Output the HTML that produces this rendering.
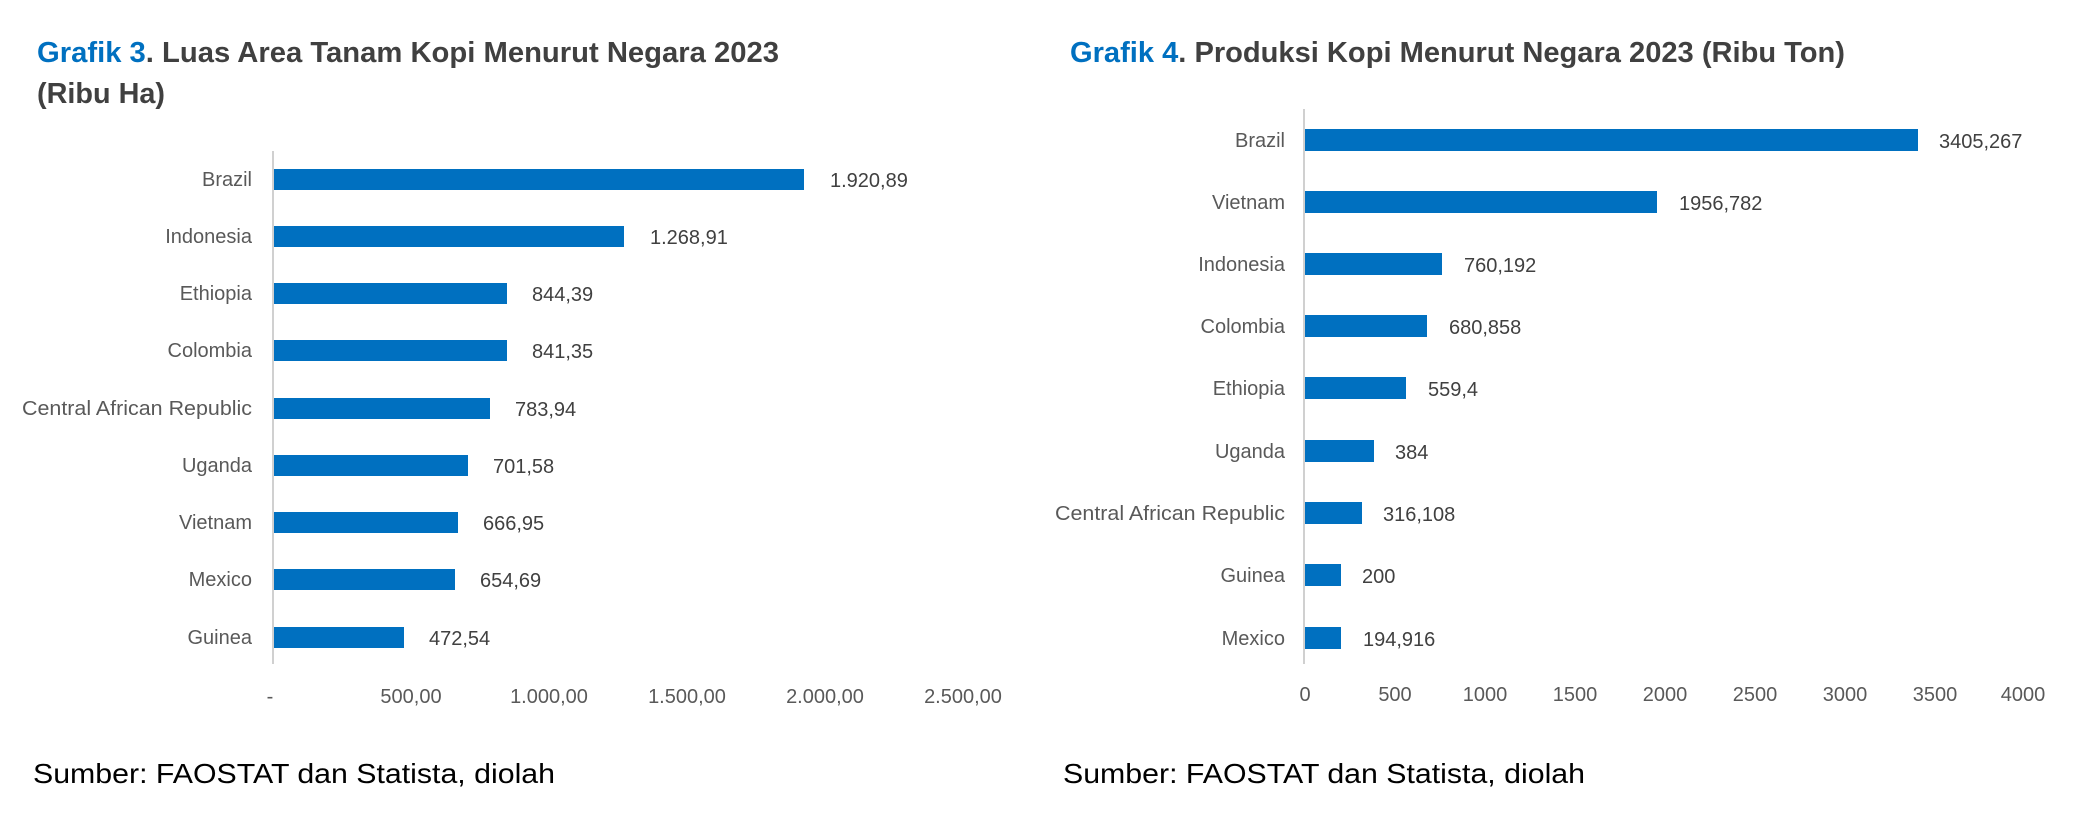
<!DOCTYPE html>
<html><head><meta charset="utf-8"><style>html,body{margin:0;padding:0;background:#fff}svg{display:block}</style></head>
<body>
<svg width="2079" height="829" viewBox="0 0 2079 829" xmlns="http://www.w3.org/2000/svg" font-family="Liberation Sans, Arial, sans-serif">
<rect width="2079" height="829" fill="#fff"/>
<!-- Left chart -->
<text x="37" y="62" font-size="29" font-weight="bold" fill="#404040" textLength="742" lengthAdjust="spacingAndGlyphs"><tspan fill="#0070C0">Grafik 3</tspan>. Luas Area Tanam Kopi Menurut Negara  2023</text>
<text x="37" y="103" font-size="29" font-weight="bold" fill="#404040" textLength="128" lengthAdjust="spacingAndGlyphs">(Ribu Ha)</text>
<line x1="273" y1="151" x2="273" y2="664" stroke="#d0d0d0" stroke-width="2"/>
<g fill="#0070C0">
<rect x="274" y="169" width="530" height="21"/>
<rect x="274" y="226" width="350" height="21"/>
<rect x="274" y="283" width="233" height="21"/>
<rect x="274" y="340" width="233" height="21"/>
<rect x="274" y="398" width="216" height="21"/>
<rect x="274" y="455" width="194" height="21"/>
<rect x="274" y="512" width="184" height="21"/>
<rect x="274" y="569" width="181" height="21"/>
<rect x="274" y="627" width="130" height="21"/>
</g>
<g font-size="20" fill="#595959" text-anchor="end">
<text x="252" y="186">Brazil</text>
<text x="252" y="243">Indonesia</text>
<text x="252" y="300">Ethiopia</text>
<text x="252" y="357">Colombia</text>
<text x="252" y="415" textLength="230" lengthAdjust="spacingAndGlyphs">Central African Republic</text>
<text x="252" y="472">Uganda</text>
<text x="252" y="529">Vietnam</text>
<text x="252" y="586">Mexico</text>
<text x="252" y="644">Guinea</text>
</g>
<g font-size="20" fill="#404040">
<text x="830" y="187">1.920,89</text>
<text x="650" y="244">1.268,91</text>
<text x="532" y="301">844,39</text>
<text x="532" y="358">841,35</text>
<text x="515" y="416">783,94</text>
<text x="493" y="473">701,58</text>
<text x="483" y="530">666,95</text>
<text x="480" y="587">654,69</text>
<text x="429" y="645">472,54</text>
</g>
<g font-size="20" fill="#595959" text-anchor="middle">
<text x="270" y="703">-</text>
<text x="411" y="703">500,00</text>
<text x="549" y="703">1.000,00</text>
<text x="687" y="703">1.500,00</text>
<text x="825" y="703">2.000,00</text>
<text x="963" y="703">2.500,00</text>
</g>
<text x="33" y="783" font-size="28" fill="#000" textLength="522" lengthAdjust="spacingAndGlyphs">Sumber: FAOSTAT dan Statista, diolah</text>
<!-- Right chart -->
<text x="1070" y="62" font-size="29" font-weight="bold" fill="#404040" textLength="775" lengthAdjust="spacingAndGlyphs"><tspan fill="#0070C0">Grafik 4</tspan>. Produksi Kopi Menurut Negara  2023 (Ribu Ton)</text>
<line x1="1304" y1="109" x2="1304" y2="664" stroke="#d0d0d0" stroke-width="2"/>
<g fill="#0070C0">
<rect x="1305" y="129" width="613" height="22"/>
<rect x="1305" y="191" width="352" height="22"/>
<rect x="1305" y="253" width="137" height="22"/>
<rect x="1305" y="315" width="122" height="22"/>
<rect x="1305" y="377" width="101" height="22"/>
<rect x="1305" y="440" width="69" height="22"/>
<rect x="1305" y="502" width="57" height="22"/>
<rect x="1305" y="564" width="36" height="22"/>
<rect x="1305" y="627" width="36" height="22"/>
</g>
<g font-size="20" fill="#595959" text-anchor="end">
<text x="1285" y="147">Brazil</text>
<text x="1285" y="209">Vietnam</text>
<text x="1285" y="271">Indonesia</text>
<text x="1285" y="333">Colombia</text>
<text x="1285" y="395">Ethiopia</text>
<text x="1285" y="458">Uganda</text>
<text x="1285" y="520" textLength="230" lengthAdjust="spacingAndGlyphs">Central African Republic</text>
<text x="1285" y="582">Guinea</text>
<text x="1285" y="645">Mexico</text>
</g>
<g font-size="20" fill="#404040">
<text x="1939" y="148">3405,267</text>
<text x="1679" y="210">1956,782</text>
<text x="1464" y="272">760,192</text>
<text x="1449" y="334">680,858</text>
<text x="1428" y="396">559,4</text>
<text x="1395" y="459">384</text>
<text x="1383" y="521">316,108</text>
<text x="1362" y="583">200</text>
<text x="1363" y="646">194,916</text>
</g>
<g font-size="20" fill="#595959" text-anchor="middle">
<text x="1305" y="701">0</text>
<text x="1395" y="701">500</text>
<text x="1485" y="701">1000</text>
<text x="1575" y="701">1500</text>
<text x="1665" y="701">2000</text>
<text x="1755" y="701">2500</text>
<text x="1845" y="701">3000</text>
<text x="1935" y="701">3500</text>
<text x="2023" y="701">4000</text>
</g>
<text x="1063" y="783" font-size="28" fill="#000" textLength="522" lengthAdjust="spacingAndGlyphs">Sumber: FAOSTAT dan Statista, diolah</text>
</svg>
</body></html>
